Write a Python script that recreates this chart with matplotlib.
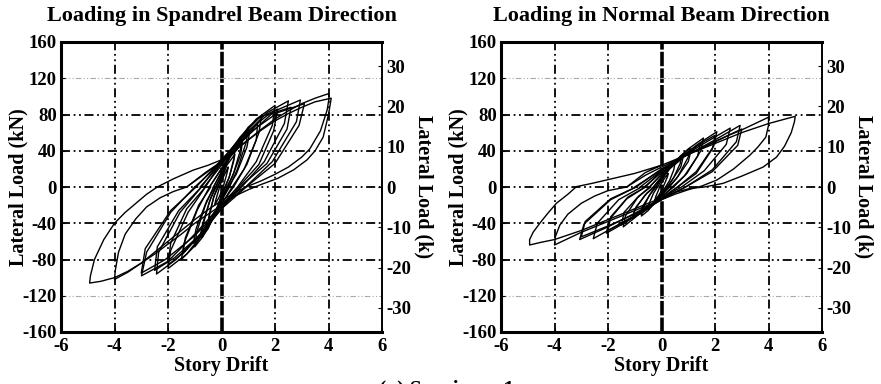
import matplotlib
matplotlib.use("Agg")
import matplotlib.pyplot as plt

# story drift (%) and lateral load (kN), one list per loading cycle
spandrel_drift = [
    [-0.08, 0, 0.1, 0.2, 0.25, 0.22, 0.12, 0.06, 0, -0.1, -0.2, -0.25, -0.22, -0.12, -0.07],
    [-0.15, 0, 0.15, 0.32, 0.5, 0.46, 0.3, 0.15, 0, -0.15, -0.32, -0.5, -0.46, -0.3, -0.15],
    [-0.15, 0, 0.2, 0.35, 0.5, 0.45, 0.28, 0.12, 0, -0.2, -0.35, -0.5, -0.45, -0.28, -0.12],
    [-0.22, 0, 0.25, 0.5, 0.75, 0.7, 0.45, 0.22, 0, -0.25, -0.5, -0.75, -0.7, -0.45, -0.22],
    [-0.22, 0, 0.3, 0.55, 0.78, 0.72, 0.4, 0.2, 0, -0.3, -0.55, -0.78, -0.7, -0.4, -0.2],
    [-0.3, 0, 0.35, 0.7, 1.0, 0.93, 0.6, 0.3, 0, -0.35, -0.7, -1.0, -0.93, -0.6, -0.3],
    [-0.3, 0.1, 0.45, 0.75, 1.05, 0.95, 0.55, 0.25, -0.1, -0.45, -0.75, -1.05, -0.95, -0.55, -0.25],
    [-0.45, 0, 0.5, 1.0, 1.5, 1.4, 0.95, 0.45, 0, -0.5, -1.0, -1.5, -1.4, -0.9, -0.45],
    [-0.45, 0.1, 0.6, 1.1, 1.35, 1.3, 0.85, 0.4, -0.1, -0.6, -1.1, -1.45, -1.35, -0.85, -0.4],
    [-0.65, 0, 0.6, 1.3, 2.0, 1.9, 1.3, 0.6, 0, -0.6, -1.3, -2.0, -1.9, -1.25, -0.6],
    [-0.6, 0, 0.7, 1.4, 2.1, 1.95, 1.4, 0.7, 0, -0.7, -1.4, -2.0, -1.9, -1.3, -0.6],
    [-0.8, 0, 0.8, 1.7, 2.5, 2.35, 1.6, 0.75, 0, -0.8, -1.7, -2.43, -2.35, -1.55, -0.75],
    [-0.75, 0, 0.85, 1.75, 2.6, 2.45, 1.7, 0.8, 0, -0.85, -1.75, -2.5, -2.4, -1.6, -0.75],
    [-1.0, 0, 1.0, 2.0, 2.95, 2.8, 1.9, 0.9, 0, -1.0, -2.0, -2.99, -2.8, -1.9, -1.0],
    [-0.95, 0, 1.05, 2.1, 3.1, 2.9, 2.0, 1.0, 0, -1.05, -2.1, -3.0, -2.85, -1.9, -0.95],
    [-1.3, -0.6, 0, 0.5, 1.0, 1.5, 2.0, 2.5, 3.0, 3.5, 4.0, 4.02, 3.95, 3.7, 3.3, 3.0, 2.5,
     2.0, 1.5, 1.0, 0.5, 0, -0.5, -1.0, -1.5, -2.0, -2.5, -3.0, -3.5, -4.0, -3.97, -3.85,
     -3.6, -3.2, -2.8, -2.3, -1.8, -1.3],
    [-1.3, -0.6, 0, 0.5, 1.0, 1.5, 2.0, 2.5, 3.0, 3.5, 4.1, 4.08, 4.0, 3.8, 3.5, 3.2, 2.7,
     2.1, 1.5, 1.0, 0.5, 0, -0.5, -1.0, -1.5, -2.0, -2.5, -3.0, -3.5, -4.0, -4.5, -4.93,
     -4.9, -4.75, -4.4, -4.0, -3.6, -3.2, -2.8, -2.4, -1.8, -1.05, -0.5, 0],
]
spandrel_load = [
    [0, 6, 13, 19, 22, 17, 6, 0, -5, -12, -17, -20, -15, -5, 0],
    [0, 10, 22, 33, 40, 31, 12, 0, -9, -22, -34, -42, -33, -12, 0],
    [0, 8, 24, 30, 36, 28, 10, 0, -10, -25, -31, -38, -29, -10, 0],
    [0, 14, 30, 44, 52, 40, 15, 0, -12, -30, -46, -56, -43, -16, 0],
    [0, 12, 33, 40, 50, 36, 11, 0, -14, -34, -42, -52, -40, -12, 0],
    [0, 17, 38, 55, 65, 50, 20, 0, -15, -36, -55, -66, -50, -20, 0],
    [0, 22, 40, 50, 60, 44, 14, 0, -20, -40, -52, -62, -46, -15, 0],
    [0, 20, 45, 66, 79, 60, 25, 0, -18, -42, -65, -80, -62, -25, 0],
    [0, 25, 50, 62, 70, 52, 20, 0, -24, -48, -62, -74, -56, -20, 0],
    [0, 24, 50, 75, 90, 68, 28, 0, -20, -48, -74, -90, -70, -28, 0],
    [0, 28, 55, 76, 86, 62, 25, 2, -24, -50, -72, -86, -62, -24, 0],
    [0, 26, 55, 82, 95, 70, 28, 0, -20, -52, -80, -96, -72, -28, 0],
    [0, 30, 58, 80, 88, 64, 26, 3, -24, -54, -78, -92, -66, -26, 0],
    [0, 27, 57, 84, 96, 72, 28, 0, -20, -52, -82, -98, -72, -28, 0],
    [0, 30, 60, 82, 92, 68, 26, 2, -24, -55, -80, -95, -68, -26, 0],
    [0, 15, 28, 40, 52, 64, 75, 84, 92, 98, 103, 98, 85, 62, 42, 33, 22,
     14, 7, 1, -6, -15, -25, -36, -48, -60, -72, -84, -94, -102, -92, -72,
     -52, -35, -22, -12, -5, 0],
    [0, 16, 28, 41, 52, 63, 73, 81, 88, 94, 98, 94, 80, 55, 40, 30, 19,
     9.5, 3, -3, -10, -20, -30, -40, -52, -63, -74, -84, -93, -100, -104, -106,
     -98, -80, -58, -40, -28, -18, -8, 0, 9, 18.7, 24, 30],
]

normal_drift = [
    [-0.08, 0, 0.1, 0.2, 0.25, 0.22, 0.12, 0.06, 0, -0.1, -0.2, -0.25, -0.22, -0.12, -0.07],
    [-0.15, 0, 0.15, 0.32, 0.5, 0.46, 0.3, 0.15, 0, -0.15, -0.32, -0.5, -0.46, -0.3, -0.15],
    [-0.22, 0, 0.25, 0.5, 0.75, 0.7, 0.45, 0.22, 0, -0.25, -0.5, -0.75, -0.7, -0.45, -0.22],
    [-0.22, 0.05, 0.3, 0.55, 0.8, 0.72, 0.4, 0.2, -0.05, -0.3, -0.55, -0.8, -0.7, -0.4, -0.2],
    [-0.3, 0, 0.35, 0.7, 1.07, 1.0, 0.62, 0.3, 0, -0.35, -0.7, -1.06, -1.0, -0.62, -0.3],
    [-0.3, 0.1, 0.45, 0.8, 1.1, 1.0, 0.55, 0.25, -0.1, -0.45, -0.8, -1.1, -0.95, -0.55, -0.25],
    [-0.45, 0, 0.5, 1.0, 1.57, 1.47, 0.95, 0.45, 0, -0.5, -1.0, -1.43, -1.35, -0.9, -0.45],
    [-0.45, 0.1, 0.6, 1.1, 1.45, 1.35, 0.85, 0.4, -0.1, -0.6, -1.1, -1.5, -1.4, -0.85, -0.4],
    [-0.65, 0, 0.65, 1.35, 2.07, 1.95, 1.3, 0.6, 0, -0.65, -1.35, -2.06, -1.95, -1.3, -0.6],
    [-0.6, 0, 0.7, 1.35, 2.0, 1.9, 1.3, 0.6, 0, -0.7, -1.35, -2.0, -1.9, -1.25, -0.6],
    [-0.8, 0, 0.8, 1.7, 2.57, 2.42, 1.6, 0.75, 0, -0.8, -1.7, -2.55, -2.4, -1.6, -0.75],
    [-1.0, 0, 1.0, 2.0, 2.94, 2.8, 1.9, 0.9, 0, -1.0, -2.0, -3.06, -2.9, -1.9, -0.95],
    [-0.95, 0, 1.0, 2.0, 3.0, 2.85, 1.9, 0.9, 0, -1.0, -2.0, -3.0, -2.85, -1.9, -0.95],
    [-1.3, -0.6, 0, 0.5, 1.0, 1.5, 2.0, 2.5, 3.0, 3.5, 4.0, 4.0, 3.9, 3.6, 3.3, 2.7, 2.07,
     1.5, 1.0, 0.5, 0, -0.5, -1.0, -1.5, -2.0, -2.5, -3.0, -3.5, -4.0, -3.97, -3.8, -3.5,
     -3.0, -2.5, -2.0, -1.3],
    [-1.3, -0.6, 0, 0.5, 1.0, 1.5, 2.0, 2.5, 3.0, 3.5, 4.0, 4.5, 5.0, 4.97, 4.85, 4.6, 4.3,
     3.8, 3.0, 2.3, 1.6, 1.07, 0.5, 0, -0.5, -1.0, -1.5, -2.0, -2.5, -3.0, -3.5, -4.0, -4.5,
     -4.93, -4.93, -4.8, -4.55, -4.25, -3.93, -3.5, -3.18, -2.6, -2.06, -1.0, 0],
]
normal_load = [
    [0, 4, 9, 13, 15, 11, 4, 0, -4, -9, -13, -15, -11, -4, 0],
    [0, 7, 14, 21, 26, 19, 7, 0, -6, -13, -20, -25, -18, -7, 0],
    [0, 9, 18, 28, 34, 26, 10, 0, -8, -17, -26, -32, -24, -9, 0],
    [0, 12, 20, 26, 32, 22, 8, 0, -10, -19, -24, -30, -21, -7, 0],
    [0, 11, 22, 34, 43, 33, 12, 0, -9, -19, -28, -33, -25, -9, 0],
    [0, 15, 25, 33, 40, 28, 9, 0, -13, -22, -28, -35, -22, -7, 0],
    [0, 14, 28, 42, 54, 40, 15, 0, -11, -22, -34, -44, -32, -12, 0],
    [0, 17, 31, 40, 48, 34, 12, 0, -14, -26, -34, -42, -28, -10, 0],
    [0, 16, 31, 47, 61, 45, 17, 0, -12, -26, -39, -51, -36, -13, 0],
    [0, 18, 33, 46, 57, 42, 15, 0, -14, -27, -38, -48, -33, -11, 0],
    [0, 18, 34, 50, 65, 47, 18, 0, -12, -28, -43, -57, -40, -14, 0],
    [0, 19, 36, 52, 68, 50, 19, 0, -13, -29, -44, -58, -41, -14, 0],
    [0, 20, 36, 50, 64, 46, 17, 0, -14, -30, -43, -55, -38, -13, 0],
    [0, 13, 22, 29, 36, 43, 50, 57, 63, 70, 77, 68, 55, 44, 35, 20, 7.7,
     1, -3, -8, -14, -20, -26, -32, -38, -44, -50, -57, -64, -55, -42, -30,
     -18, -10, -4, 0],
    [0, 16, 24, 30, 36, 42, 48, 54, 60, 65, 70, 74, 78, 72, 60, 45, 33,
     22, 12, 4, 0, -1.5, -6, -12, -18, -24, -30, -36, -42, -48, -53, -58, -61,
     -64, -58, -50, -40, -29, -18, -8, 0.4, 4, 7.7, 15, 24],
]

titles = ["Loading in Spandrel Beam Direction", "Loading in Normal Beam Direction"]
kn_per_kip = 4.448

plt.rcParams["font.family"] = ["Liberation Serif", "DejaVu Serif"]
plt.rcParams["font.weight"] = "bold"
plt.rcParams["axes.unicode_minus"] = False

fig = plt.figure(figsize=(8.81, 3.84), dpi=100)

grid_dash = (0, (5, 2, 1, 2, 1, 2))
panels = [(spandrel_drift, spandrel_load), (normal_drift, normal_load)]
lefts = [61 / 881, 501 / 881]

for i, (drifts, loads) in enumerate(panels):
    ax = fig.add_axes([lefts[i], 1 - 332 / 384, 321 / 881, 290 / 384])
    for x in [-4, -2, 2, 4]:
        ax.axvline(x, color="black", lw=1.3, ls=grid_dash, zorder=1)
    ax.axvline(0, color="black", lw=2.6, ls=(0, (4, 0.6)), zorder=1)
    for y in [-80, -40, 0, 40, 80]:
        ax.axhline(y, color="black", lw=1.3, ls=grid_dash, zorder=1)
    for y in [-120, 120]:
        ax.axhline(y, color="#aaaaaa", lw=0.8, ls=grid_dash, zorder=1)

    for d, p in zip(drifts, loads):
        ax.plot(d, p, color="black", lw=1.0, zorder=3)

    ax.set_xlim(-6, 6)
    ax.set_ylim(-160, 160)
    ax.set_xticks([-6, -4, -2, 0, 2, 4, 6])
    ax.set_yticks([-160, -120, -80, -40, 0, 40, 80, 120, 160])
    ax.tick_params(direction="in", length=3, labelsize=13.5, pad=3)
    ax.tick_params(axis="x", pad=4)
    for s in ["left", "top", "bottom"]:
        ax.spines[s].set_linewidth(2.2)
    ax.spines["right"].set_linewidth(1.2)
    ax.set_xlabel("Story Drift", fontsize=14.5, fontweight="bold", labelpad=1)
    ax.set_ylabel("Lateral Load (kN)", fontsize=14.5, fontweight="bold")
    ax.yaxis.set_label_coords(-0.1, 0.5)
    ax.set_title(titles[i], fontsize=16, fontweight="bold", pad=15)

    ax2 = ax.twinx()
    ax2.set_ylim(-160 / kn_per_kip, 160 / kn_per_kip)
    ax2.set_yticks([-30, -20, -10, 0, 10, 20, 30])
    ax2.tick_params(direction="in", length=3, labelsize=13.5, pad=3)
    ax2.spines["right"].set_linewidth(1.2)
    ax2.set_ylabel("Lateral Load (k)", fontsize=14.5, fontweight="bold", rotation=270)
    ax2.yaxis.set_label_coords(1.16, 0.5)

fig.text(447 / 881, 1 - 380 / 384, "(a) Specimen 1", ha="center", va="top",
         fontsize=15.5, fontweight="bold")

fig.savefig("out.png", dpi=100)
